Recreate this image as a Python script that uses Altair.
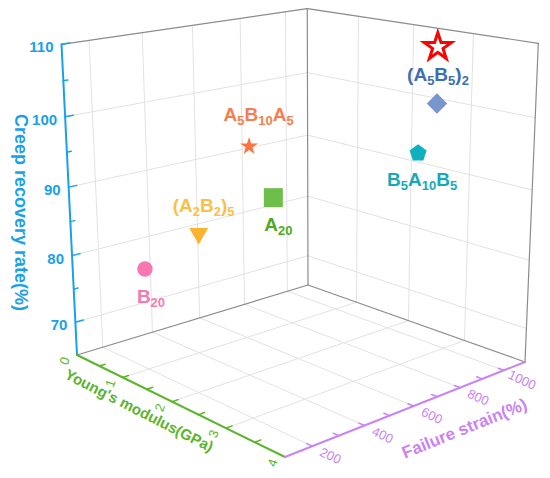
import numpy as np
import pandas as pd
import altair as alt

# ---------------- data ----------------
names = ["B20", "(A2B2)5", "A20", "A5B10A5", "B5A10B5", "(A5B5)2", "target"]
modulus = [0.62, 1.585, 1.63, 1.89, 2.28, 2.64, 2.64]      # Young's modulus (GPa)
strain = [267, 295, 583, 433, 1057, 1042, 1040]            # Failure strain (%)
recovery = [78, 85, 88, 97, 92, 100, 108]                  # Creep recovery rate (%)
label_parts = [
    [("B", 0), ("20", 1)],
    [("(", 0), ("A", 0), ("2", 1), ("B", 0), ("2", 1), (")", 0), ("5", 1)],
    [("A", 0), ("20", 1)],
    [("A", 0), ("5", 1), ("B", 0), ("10", 1), ("A", 0), ("5", 1)],
    [("B", 0), ("5", 1), ("A", 0), ("10", 1), ("B", 0), ("5", 1)],
    [("(", 0), ("A", 0), ("5", 1), ("B", 0), ("5", 1), (")", 0), ("2", 1)],
    [],
]
y_ticks = [0, 1, 2, 3, 4]
s_ticks = [200, 400, 600, 800, 1000]
z_ticks = [70, 80, 90, 100, 110]
Y_MIN, Y_MAX = 0, 4
S_MIN, S_MAX = 100, 1100
Z_MIN, Z_MAX = 65, 110

# ---------------- styles ----------------
PENTAGON = "M0,-1L0.951,-0.309L0.588,0.809L-0.588,0.809L-0.951,-0.309Z"
STAR = ("M0,-1L0.2245,-0.309L0.951,-0.309L0.363,0.118L0.588,0.809L0,0.382"
        "L-0.588,0.809L-0.363,0.118L-0.951,-0.309L-0.2245,-0.309Z")
marker_shape = ["circle", "triangle-down", "square", STAR, PENTAGON, "diamond", STAR]
marker_color = ["#F777B0", "#FDB32F", "#6DBF4B", "#FA7544", "#11B0C0", "#7895CE", "#FF0000"]
marker_size = [240, 361, 361, 350, 320, 420, 820]
label_color = ["#F57BB0", "#FBBF45", "#4EA923", "#F47E4E", "#16AAB9", "#3D6FB0", "#000000"]
label_off = [(6, 34), (5, -24.5), (5, 33.5), (9.5, -25), (4, 33), (1, -22), (0, 0)]
MAIN_FS, SUB_FS, SUB_DROP = 19, 13, 4
CHAR_W = {"A": 0.722, "B": 0.722, "(": 0.333, ")": 0.333}

BLUE, GREEN, PURPLE = "#1AA0E8", "#5BB42A", "#C983F2"
GRID, FRAME = "#E2E2E2", "#8C8C8C"
FONT = "Liberation Sans"

W, H = 534, 462

# ---------------- perspective of the 3D frame ----------------
# where the box corners sit on the page (px); floor corners give an exact
# homography, the vertical direction is fitted to the three visible top corners
floor_px = {(0, 0): (77, 355), (1, 0): (285, 457), (1, 1): (525, 362), (0, 1): (308, 285)}
top_px = {(0, 0): (61, 43), (0, 1): (308, 10), (1, 1): (538, 43)}
(x0, y0), (x1, y1), (x2, y2), (x3, y3) = [(a - 8, b - 8) for a, b in
                                          (floor_px[(0, 0)], floor_px[(1, 0)],
                                           floor_px[(1, 1)], floor_px[(0, 1)])]
sx, sy = x0 - x1 + x2 - x3, y0 - y1 + y2 - y3
dx1, dx2, dy1, dy2 = x1 - x2, x3 - x2, y1 - y2, y3 - y2
den = dx1 * dy2 - dx2 * dy1
g = (sx * dy2 - dx2 * sy) / den
h = (dx1 * sy - sx * dy1) / den
a, b, c = x1 - x0 + g * x1, x3 - x0 + h * x3, x0
d, e, f = y1 - y0 + g * y1, y3 - y0 + h * y3, y0
rows, rhs = [], []
for (u, v), (X_, Y_) in top_px.items():
    X_, Y_ = X_ - 8, Y_ - 8
    den0 = g * u + h * v + 1
    rows.append([1, 0, -X_]); rhs.append(X_ * den0 - (a * u + b * v + c))
    rows.append([0, 1, -Y_]); rhs.append(Y_ * den0 - (d * u + e * v + f))
p, q, r = np.linalg.lstsq(np.array(rows, float), np.array(rhs, float), rcond=None)[0]
PM = np.array([[a, b, p, c], [d, e, q, f], [g, h, r, 1.0]])


def proj_exprs(yf, sf, zf, ox=0, oy=0):
    u = f"((datum['{yf}']-{Y_MIN})/{Y_MAX - Y_MIN})"
    v = f"((datum['{sf}']-{S_MIN})/{S_MAX - S_MIN})"
    w = f"((datum['{zf}']-{Z_MIN})/{Z_MAX - Z_MIN})"

    def lin(k):
        return f"({PM[k,0]:.8f}*{u}+{PM[k,1]:.8f}*{v}+{PM[k,2]:.8f}*{w}+{PM[k,3]:.8f})"
    return f"{lin(0)}/{lin(2)}+({ox})", f"{lin(1)}/{lin(2)}+({oy})"


def project(ch, yf, sf, zf, xo, yo, ox=0, oy=0):
    ex, ey = proj_exprs(yf, sf, zf, ox, oy)
    return ch.transform_calculate(**{xo: ex}).transform_calculate(**{yo: ey})


xs = alt.Scale(domain=[0, W], nice=False, zero=False)
ys = alt.Scale(domain=[0, H], nice=False, zero=False, reverse=True)


def X(fld):
    return alt.X(fld, type="quantitative", scale=xs, axis=None)


def Y(fld):
    return alt.Y(fld, type="quantitative", scale=ys, axis=None)


# ---------------- line segments (grid, frame, axes, ticks) ----------------
segs = []


def seg(A, B, color, width):
    segs.append(dict(y1=A[0], s1=A[1], z1=A[2], y2=B[0], s2=B[1], z2=B[2],
                     color=color, width=width))


for t in y_ticks[1:-1]:
    seg((t, S_MIN, Z_MIN), (t, S_MAX, Z_MIN), GRID, 1)      # floor
    seg((t, S_MAX, Z_MIN), (t, S_MAX, Z_MAX), GRID, 1)      # back-right wall
for t in s_ticks:
    seg((Y_MIN, t, Z_MIN), (Y_MAX, t, Z_MIN), GRID, 1)      # floor
    seg((Y_MIN, t, Z_MIN), (Y_MIN, t, Z_MAX), GRID, 1)      # back-left wall
for t in z_ticks[:-1]:
    seg((Y_MIN, S_MIN, t), (Y_MIN, S_MAX, t), GRID, 1)
    seg((Y_MIN, S_MAX, t), (Y_MAX, S_MAX, t), GRID, 1)

seg((Y_MIN, S_MIN, Z_MIN), (Y_MIN, S_MAX, Z_MIN), FRAME, 1.2)
seg((Y_MIN, S_MAX, Z_MIN), (Y_MAX, S_MAX, Z_MIN), FRAME, 1.2)
seg((Y_MIN, S_MAX, Z_MIN), (Y_MIN, S_MAX, Z_MAX), FRAME, 1.2)
seg((Y_MIN, S_MIN, Z_MAX), (Y_MIN, S_MAX, Z_MAX), FRAME, 1.2)
seg((Y_MIN, S_MAX, Z_MAX), (Y_MAX, S_MAX, Z_MAX), FRAME, 1.2)
seg((Y_MAX, S_MAX, Z_MAX), (Y_MAX, S_MAX, Z_MIN), FRAME, 1.2)

seg((Y_MIN, S_MIN, Z_MIN), (Y_MIN, S_MIN, Z_MAX), BLUE, 2)
seg((Y_MIN, S_MIN, Z_MIN), (Y_MAX, S_MIN, Z_MIN), GREEN, 2)
seg((Y_MAX, S_MIN, Z_MIN), (Y_MAX, S_MAX, Z_MIN), PURPLE, 2)

for t in range(70, 111, 5):
    L = 30 if t % 10 == 0 else 16
    seg((Y_MIN, S_MIN, t), (Y_MIN, S_MIN + L, t), BLUE, 1.5)
for k in range(1, 8):
    t = k * 0.5
    seg((t, S_MIN, Z_MIN), (t, S_MIN + 22, Z_MIN), GREEN, 1.5)
for t in range(200, 1001, 100):
    seg((Y_MAX, t, Z_MIN), (Y_MAX - 0.09, t, Z_MIN), PURPLE, 1.5)

seg_df = pd.DataFrame(segs)
lines = alt.Chart(seg_df).mark_rule(strokeCap="round")
lines = project(lines, "y1", "s1", "z1", "px1", "py1")
lines = project(lines, "y2", "s2", "z2", "px2", "py2")
lines = lines.encode(x=X("px1"), y=Y("py1"), x2="px2:Q", y2="py2:Q",
                     color=alt.Color("color:N", scale=None),
                     strokeWidth=alt.StrokeWidth("width:Q", scale=None))


# ---------------- axis labels ----------------
def text_layer(df, ox, oy, **mk):
    ch = alt.Chart(df).mark_text(font=FONT, **mk)
    ch = project(ch, "y", "s", "z", "px", "py", ox, oy)
    return ch.encode(x=X("px"), y=Y("py"), text="txt:N")


zlab = pd.DataFrame(dict(txt=[str(t) for t in z_ticks], y=Y_MIN, s=S_MIN, z=z_ticks))
ylab = pd.DataFrame(dict(txt=[str(t) for t in y_ticks], y=y_ticks, s=S_MIN, z=Z_MIN))
slab = pd.DataFrame(dict(txt=[str(t) for t in s_ticks], y=Y_MAX, s=s_ticks, z=Z_MIN))

z_labels = text_layer(zlab, -8, 3, align="right", baseline="middle",
                      fontSize=15, fontWeight="bold", color=BLUE)
y_labels = text_layer(ylab, -12, 6, align="center", baseline="middle",
                      fontSize=13, angle=290, color=GREEN)
s_labels = text_layer(slab, 18, 10, align="center", baseline="middle",
                      fontSize=13, angle=25, color=PURPLE)

ztitle = text_layer(pd.DataFrame(dict(txt=["Creep recovery rate(%)"], y=[Y_MIN], s=[S_MIN], z=[87.5])),
                    -49, 8, align="center", baseline="middle", angle=90,
                    fontSize=18, fontWeight="bold", color=BLUE)
ytitle = text_layer(pd.DataFrame(dict(txt=["Young's modulus(GPa)"], y=[2], s=[S_MIN], z=[Z_MIN])),
                    -33, 9, align="center", baseline="middle", angle=27,
                    fontSize=15, fontWeight="bold", color=GREEN)
stitle = text_layer(pd.DataFrame(dict(txt=["Failure strain(%)"], y=[Y_MAX], s=[600], z=[Z_MIN])),
                    51, 23, align="center", baseline="middle", angle=338,
                    fontSize=17, fontWeight="bold", color=PURPLE)

# ---------------- markers ----------------
pts = pd.DataFrame(dict(name=names, y=modulus, s=strain, z=recovery, shape=marker_shape,
                        color=marker_color, size=marker_size))
filled = alt.Chart(pts.iloc[:-1]).mark_point(filled=True, opacity=1, strokeWidth=0)
filled = project(filled, "y", "s", "z", "px", "py").encode(
    x=X("px"), y=Y("py"),
    shape=alt.Shape("shape:N", scale=None),
    color=alt.Color("color:N", scale=None),
    size=alt.Size("size:Q", scale=None))
hollow = alt.Chart(pts.iloc[-1:]).mark_point(filled=False, fill="white", fillOpacity=1,
                                             strokeWidth=3, opacity=1, strokeJoin="miter")
hollow = project(hollow, "y", "s", "z", "px", "py").encode(
    x=X("px"), y=Y("py"),
    shape=alt.Shape("shape:N", scale=None),
    stroke=alt.Stroke("color:N", scale=None),
    size=alt.Size("size:Q", scale=None))

# ---------------- point labels with subscripts ----------------
lrows = []
for i, parts in enumerate(label_parts):
    widths = []
    for txt, sub in parts:
        fs = SUB_FS if sub else MAIN_FS
        widths.append(sum(CHAR_W.get(ch_, 0.556) for ch_ in txt) * fs)
    total = sum(widths)
    xpos = -total / 2
    for (txt, sub), wd in zip(parts, widths):
        lrows.append(dict(txt=txt, sub=sub, y=modulus[i], s=strain[i], z=recovery[i],
                          ox=xpos + label_off[i][0],
                          oy=label_off[i][1] + (SUB_DROP if sub else 0),
                          color=label_color[i]))
        xpos += wd
ldf = pd.DataFrame(lrows)
plabels = alt.Chart(ldf).mark_text(font=FONT, fontWeight="bold", align="left",
                                   baseline="alphabetic")
plabels = project(plabels, "y", "s", "z", "px0", "py0").transform_calculate(
    lx="datum.px0 + datum.ox", ly="datum.py0 + datum.oy").encode(
    x=X("lx"), y=Y("ly"), text="txt:N",
    color=alt.Color("color:N", scale=None),
    size=alt.condition("datum.sub == 1", alt.value(SUB_FS), alt.value(MAIN_FS)))

chart = alt.layer(lines, z_labels, y_labels, s_labels, ztitle, ytitle, stitle,
                  filled, hollow, plabels).properties(
    width=W, height=H, padding=0, autosize="none",
    background="white").configure_view(stroke=None)

chart.save("out.html", embed_options={"renderer": "svg", "actions": False})
